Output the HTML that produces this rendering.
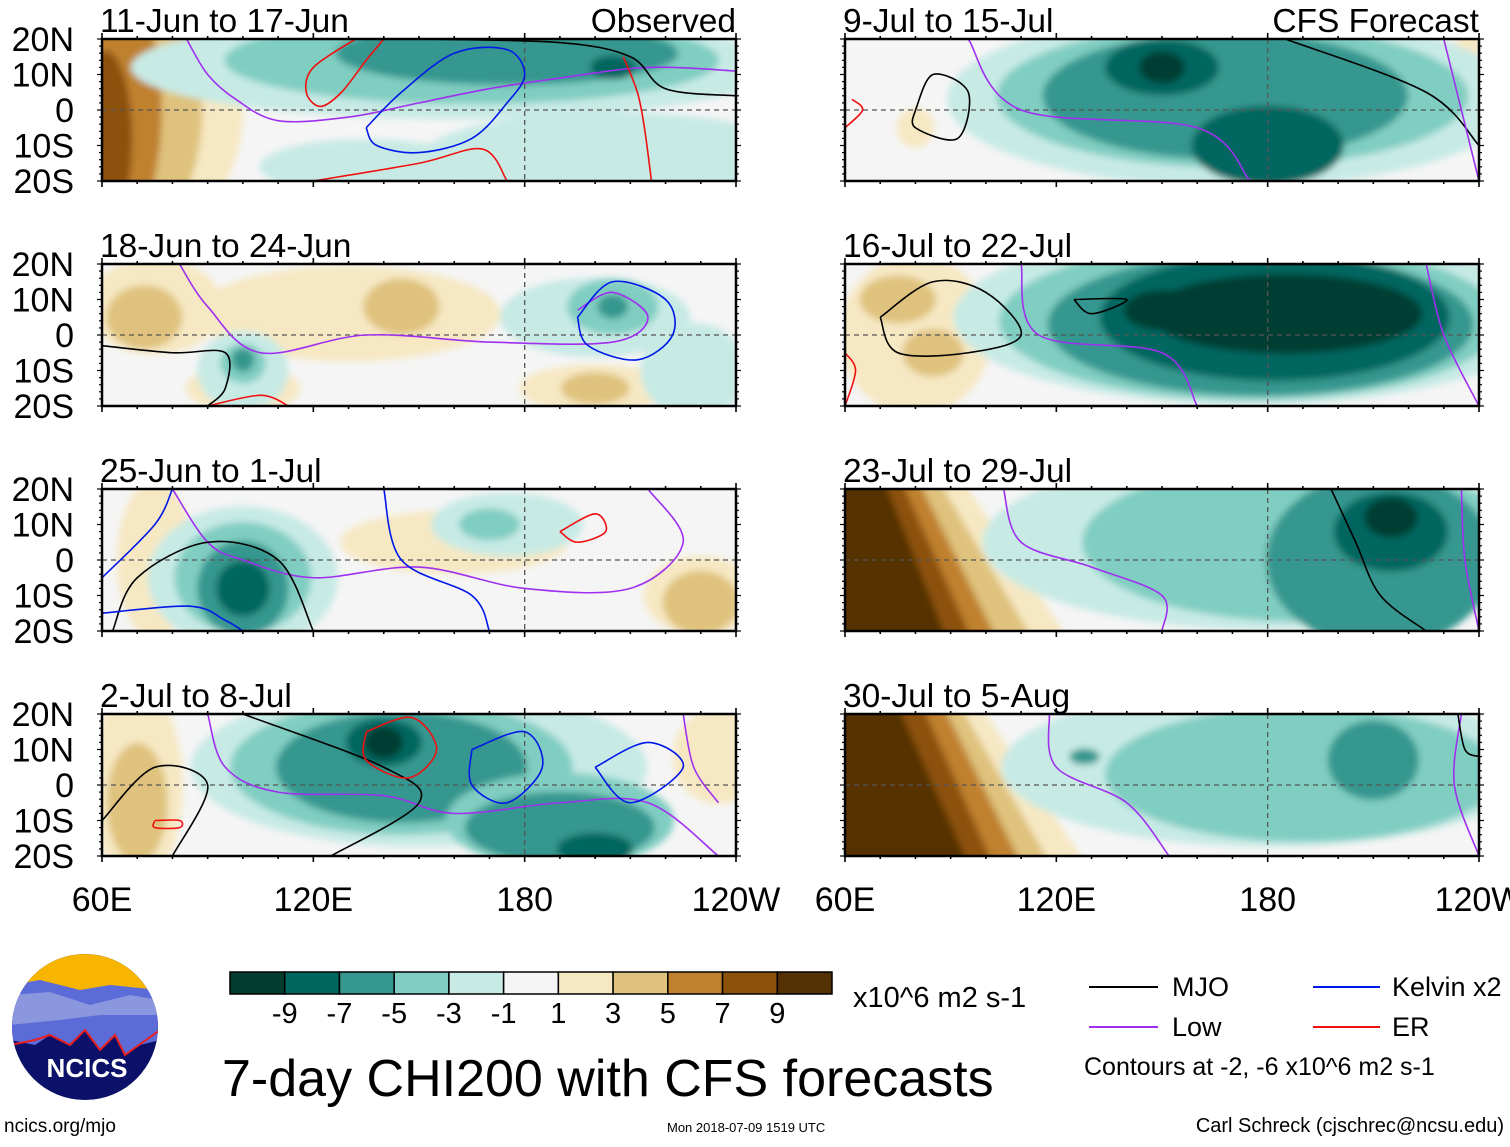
<!DOCTYPE html>
<html><head><meta charset="utf-8">
<style>
html,body{margin:0;padding:0;background:#fff;}
body{width:1510px;height:1142px;overflow:hidden;font-family:"Liberation Sans",sans-serif;}
svg text{font-family:"Liberation Sans",sans-serif;}
</style></head>
<body>
<svg id="fig" width="1510" height="1142" viewBox="0 0 1510 1142">
<defs>
<filter id="blur" x="-30%" y="-30%" width="160%" height="160%"><feGaussianBlur stdDeviation="3.5"/></filter>
</defs>
<g id="panels"></g>
<g id="colorbar"></g>
<text x="853" y="1007" font-size="29">x10^6 m2 s-1</text>
<text x="222" y="1096" font-size="52">7-day CHI200 with CFS forecasts</text>
<g>
<line x1="1089" y1="987" x2="1158" y2="987" stroke="#000" stroke-width="2"/>
<text x="1172" y="996" font-size="27">MJO</text>
<line x1="1313" y1="987" x2="1380" y2="987" stroke="#0018e8" stroke-width="2"/>
<text x="1392" y="996" font-size="27">Kelvin x2</text>
<line x1="1089" y1="1027" x2="1158" y2="1027" stroke="#a030f0" stroke-width="2"/>
<text x="1172" y="1036" font-size="27">Low</text>
<line x1="1313" y1="1027" x2="1380" y2="1027" stroke="#f01010" stroke-width="2"/>
<text x="1392" y="1036" font-size="27">ER</text>
<text x="1084" y="1075" font-size="25">Contours at -2, -6 x10^6 m2 s-1</text>
</g>
<g>
<clipPath id="logoclip"><circle cx="85" cy="1027" r="73"/></clipPath>
<g clip-path="url(#logoclip)">
<rect x="10" y="950" width="150" height="160" fill="#0b1068"/>
<rect x="10" y="950" width="150" height="40" fill="#f7b500"/>
<path d="M10 985 L40 980 L80 990 L110 985 L160 990 L160 1040 L140 1045 L125 1055 L115 1035 L100 1050 L85 1030 L70 1045 L50 1035 L35 1045 L10 1040 Z" fill="#5b6bd8"/>
<path d="M10 995 L50 992 L90 1005 L130 995 L160 1000 L160 1015 L100 1015 L60 1020 L10 1025 Z" fill="#8a96dd"/>
<path d="M10 1045 L35 1040 L50 1035 L70 1045 L85 1030 L100 1050 L115 1035 L125 1055 L160 1030" fill="none" stroke="#e82020" stroke-width="2"/>
</g>
<text x="87" y="1077" font-size="26" font-weight="bold" fill="#fff" text-anchor="middle">NCICS</text>
</g>
<text x="4" y="1132" font-size="19">ncics.org/mjo</text>
<text x="667" y="1132" font-size="13">Mon 2018-07-09 1519 UTC</text>
<text x="1504" y="1132" font-size="20" text-anchor="end">Carl Schreck (cjschrec@ncsu.edu)</text>
</svg>
<script>
const COLORS=["#003c30","#01665e","#35978f","#80cdc1","#c7eae5","#f5f5f5","#f6e8c3","#dfc27d","#bf812d","#8c510a","#543005"];
const cbarLabels=["-9","-7","-5","-3","-1","1","3","5","7","9"];
const latTicks=["20N","10N","0","10S","20S"];
const latValues=[20,10,0,-10,-20];
const lonTicks=["60E","120E","180","120W"];
const lonValues=[60,120,180,240];
const titles=["11-Jun to 17-Jun","18-Jun to 24-Jun","25-Jun to 1-Jul","2-Jul to 8-Jul","9-Jul to 15-Jul","16-Jul to 22-Jul","23-Jul to 29-Jul","30-Jul to 5-Aug"];
// blobs: [lon, lat, rLon, rLat, colorIndex]
const blobs1=[[72,0,26,32,6],[68,0,19,32,7],[64,0,12,32,8],[61,-8,7,22,9],[160,12,85,13,4],[165,14,65,11,3],[175,16,45,8,2],[205,12,6,3,1],[205,-13,50,11,4],[135,-16,28,7,4]];
const blobs2=[[75,8,18,12,6],[72,5,10,8,7],[130,6,40,12,6],[145,8,10,7,7],[100,-15,15,6,6],[200,5,25,10,4],[205,8,12,7,3],[205,8,4,3,2],[100,-10,12,10,4],[100,-8,6,5,3],[100,-7,3,3,2],[200,-15,20,6,6],[200,-15,9,4,7],[228,-10,14,12,4]];
const blobs3=[[75,0,10,20,6],[160,5,30,8,6],[230,-10,15,10,6],[230,-12,10,8,7],[100,-5,25,18,4],[100,-5,18,14,3],[100,-8,12,12,2],[100,-8,7,7,1],[175,10,20,8,4],[170,10,8,4,3]];
const blobs4=[[70,0,12,25,6],[70,-5,8,15,7],[235,8,12,12,6],[150,5,60,20,4],[145,5,45,17,3],[145,5,33,14,2],[140,12,10,6,1],[140,12,5,4,0],[190,-10,30,12,3],[190,-12,25,9,2],[200,-18,10,4,1]];
const blobs5=[[80,-5,5,5,6],[237,10,4,15,6],[170,3,75,22,4],[170,4,62,18,3],[168,4,48,16,2],[150,12,15,7,1],[180,-10,20,10,1],[150,12,6,4,0]];
const blobs6=[[80,0,20,20,6],[85,-5,8,6,7],[75,10,10,6,7],[175,5,78,22,4],[175,4,66,20,3],[178,3,56,18,2],[182,5,46,16,1],[185,6,36,10,0],[150,7,10,5,0]];
const blobs7=[[180,5,75,22,4],[190,5,58,20,3],[212,0,30,22,2],[215,8,15,10,1],[215,12,7,5,0]];
const blobs8=[[180,5,70,20,4],[190,3,52,17,3],[210,7,12,10,2],[128,8,4,2,2]];
// bands: [lonAtTop, lonAtBottom, colorIndex]
const bands7=[[95,122,6],[88,112,7],[82,102,8],[77,95,9],[72,88,10]];
const bands8=[[100,127,6],[94,117,7],[89,109,8],[83,101,9],[76,94,10]];
const bands1=[],bands2=[],bands3=[],bands4=[],bands5=[],bands6=[];
const K="#000",B="#0018e8",P="#a030f0",R="#f01010";
const lines1=[{c:P,p:[[84,20],[90,10],[98,3],[110,-3],[130,-2],[150,2],[170,6],[190,9],[215,12],[240,11]]},{c:R,p:[[132,20],[120,12],[118,5],[122,1],[128,5],[135,14],[140,20]]},{c:K,p:[[150,20],[190,19],[210,15],[220,6],[240,4]]},{c:B,p:[[135,-5],[145,5],[160,16],[175,17],[180,10],[175,2],[165,-8],[150,-12],[138,-10],[135,-5]]},{c:R,p:[[208,15],[212,5],[214,-5],[216,-20]]},{c:R,p:[[120,-20],[150,-15],[168,-11],[175,-20]]}];
const lines2=[{c:P,p:[[82,20],[90,8],[105,-5],[135,0],[170,-2],[205,-2],[215,5],[205,12],[195,7]]},{c:B,p:[[195,5],[205,15],[220,10],[222,0],[212,-7],[198,-3],[195,5]]},{c:K,p:[[60,-3],[80,-5],[95,-5],[95,-15],[90,-20]]},{c:R,p:[[90,-20],[105,-17],[113,-20]]}];
const lines3=[{c:P,p:[[80,20],[90,5],[100,0],[120,-5],[150,-2],[180,-8],[210,-8],[225,5],[215,20]]},{c:K,p:[[63,-20],[70,-5],[90,5],[110,0],[120,-20]]},{c:B,p:[[60,-5],[75,10],[80,20]]},{c:B,p:[[60,-15],[85,-13],[95,-17],[100,-20]]},{c:B,p:[[140,20],[145,0],[165,-10],[170,-20]]},{c:R,p:[[190,8],[200,13],[203,8],[195,5],[190,8]]}];
const lines4=[{c:P,p:[[90,20],[95,5],[110,-2],[140,-3],[160,-8],[190,-5],[215,-5],[235,-20]]},{c:P,p:[[225,20],[228,5],[235,-5]]},{c:K,p:[[60,-10],[75,5],[90,0],[80,-20]]},{c:K,p:[[100,20],[140,5],[150,-5],[125,-20]]},{c:B,p:[[165,10],[180,15],[185,5],[175,-5],[165,0],[165,10]]},{c:B,p:[[200,5],[215,12],[225,5],[210,-5],[200,5]]},{c:R,p:[[135,15],[148,19],[155,10],[147,2],[135,7],[135,15]]},{c:R,p:[[75,-10],[82,-10],[82,-12],[75,-12],[75,-10]]}];
const lines5=[{c:K,p:[[80,0],[85,10],[95,5],[92,-8],[80,-5],[80,0]]},{c:K,p:[[185,20],[225,5],[240,-10]]},{c:P,p:[[95,20],[110,0],[160,-5],[175,-20]]},{c:P,p:[[230,20],[235,0],[240,-20]]},{c:R,p:[[60,-5],[65,0],[62,3]]}];
const lines6=[{c:K,p:[[70,5],[85,15],[100,12],[110,0],[95,-5],[75,-5],[70,5]]},{c:K,p:[[125,10],[140,10],[130,6],[125,10]]},{c:P,p:[[110,20],[115,0],[150,-5],[160,-20]]},{c:P,p:[[225,20],[230,0],[240,-20]]},{c:R,p:[[60,-20],[63,-10],[60,-5]]}];
const lines7=[{c:K,p:[[198,20],[205,5],[212,-10],[225,-20]]},{c:P,p:[[235,20],[236,0],[240,-20]]},{c:P,p:[[105,20],[110,5],[130,-2],[150,-10],[150,-20]]}];
const lines8=[{c:P,p:[[118,20],[120,5],[140,-5],[152,-20]]},{c:P,p:[[235,20],[233,0],[240,-20]]},{c:K,p:[[234,20],[236,10],[240,8]]}];
const allBlobs=[blobs1,blobs2,blobs3,blobs4,blobs5,blobs6,blobs7,blobs8];
const allBands=[bands1,bands2,bands3,bands4,bands5,bands6,bands7,bands8];
const allLines=[lines1,lines2,lines3,lines4,lines5,lines6,lines7,lines8];

const NS="http://www.w3.org/2000/svg";
function mk(tag,attrs,parent){const e=document.createElementNS(NS,tag);for(const k in attrs)e.setAttribute(k,attrs[k]);if(parent)parent.appendChild(e);return e;}
const LEFTS=[102,845],W=634,H=142,TOPS=[39,264,489,714];
function smooth(pts){let d="M"+pts[0][0]+" "+pts[0][1];for(let i=0;i<pts.length-1;i++){const p0=pts[i-1]||pts[i],p1=pts[i],p2=pts[i+1],p3=pts[i+2]||p2;const c1=[p1[0]+(p2[0]-p0[0])/6,p1[1]+(p2[1]-p0[1])/6],c2=[p2[0]-(p3[0]-p1[0])/6,p2[1]-(p3[1]-p1[1])/6];d+=` C${c1[0]} ${c1[1]} ${c2[0]} ${c2[1]} ${p2[0]} ${p2[1]}`;}return d;}
const root=document.getElementById("panels");
for(let i=0;i<8;i++){
 const col=i<4?0:1,row=i%4;const x0=LEFTS[col],y0=TOPS[row];
 const xs=lon=>x0+(lon-60)/180*W, ys=lat=>y0+(20-lat)/40*H;
 const g=mk("g",{},root);
 
 
 const cid="clip"+i;const cp=mk("clipPath",{id:cid},g);mk("rect",{x:x0,y:y0,width:W,height:H},cp);
 const fill=mk("g",{"clip-path":`url(#${cid})`},g);
 mk("rect",{x:x0,y:y0,width:W,height:H,fill:COLORS[5]},fill);
 const fb=mk("g",{filter:"url(#blur)"},fill);
 allBands[i].forEach(b=>{const pl=mk("polygon",{points:`${x0-30},${y0-30} ${xs(b[0])-3},${y0-30} ${xs(b[0])},${y0} ${xs(b[1])},${y0+H} ${xs(b[1])+3},${y0+H+30} ${x0-30},${y0+H+30}`,fill:COLORS[b[2]]},fb);
  
  });
 allBlobs[i].forEach(b=>{const el=mk("ellipse",{cx:xs(b[0]),cy:ys(b[1]),rx:b[2]/180*W*1.08,ry:b[3]/40*H*1.12,fill:COLORS[b[4]]},fb);
  
  });
 mk("line",{x1:x0,y1:ys(0),x2:x0+W,y2:ys(0),stroke:"#555","stroke-width":1.3,"stroke-dasharray":"5,4"},fill);
 mk("line",{x1:xs(180),y1:y0,x2:xs(180),y2:y0+H,stroke:"#555","stroke-width":1.3,"stroke-dasharray":"5,4"},fill);
 allLines[i].forEach(l=>{const p=mk("path",{d:smooth(l.p.map(q=>[xs(q[0]),ys(q[1])])),fill:"none",stroke:l.c,"stroke-width":1.6},fill);
  
  });
 mk("rect",{x:x0,y:y0,width:W,height:H,fill:"none",stroke:"#000","stroke-width":2.5},g);
 for(let lat=-20;lat<=20;lat+=2){const len=lat%10===0?5:3;mk("line",{x1:x0-len,y1:ys(lat),x2:x0,y2:ys(lat),stroke:"#000","stroke-width":1.2},g);mk("line",{x1:x0+W,y1:ys(lat),x2:x0+W+len,y2:ys(lat),stroke:"#000","stroke-width":1.2},g);}
 for(let lon=60;lon<=240;lon+=10){const len=lon%60===0?6:3;mk("line",{x1:xs(lon),y1:y0+H,x2:xs(lon),y2:y0+H+len,stroke:"#000","stroke-width":1.6},g);mk("line",{x1:xs(lon),y1:y0-len,x2:xs(lon),y2:y0,stroke:"#000","stroke-width":1.6},g);}
 const t=mk("text",{x:x0-2,y:y0-7,"font-size":33.5},g);t.textContent=titles[i];
 
 
 if(i===0){const o=mk("text",{x:x0+W,y:y0-7,"font-size":33.5,"text-anchor":"end"},g);o.textContent="Observed";
  
  }
 if(i===4){const o=mk("text",{x:x0+W,y:y0-7,"font-size":33.5,"text-anchor":"end"},g);o.textContent="CFS Forecast";
  
  }
 if(col===0){latValues.forEach((v,k)=>{const tl=mk("text",{x:74,y:ys(v)+12,"font-size":34,"text-anchor":"end"},g);tl.textContent=latTicks[k];
  
  });}
 if(row===3){lonValues.forEach((v,k)=>{const tl=mk("text",{x:xs(v),y:911,"font-size":34,"text-anchor":"middle"},g);tl.textContent=lonTicks[k];
  
  });}
}
const cb=document.getElementById("colorbar");const cbx=230,cbw=602/11;
COLORS.forEach((c,k)=>{const r=mk("rect",{x:cbx+k*cbw,y:972,width:cbw,height:22,fill:c,stroke:"#000","stroke-width":1.5},cb);
 
 });
cbarLabels.forEach((s,k)=>{const t=mk("text",{x:cbx+(k+1)*cbw,y:1023,"font-size":29,"text-anchor":"middle"},cb);t.textContent=s;
 
 });
</script>
</body></html>
